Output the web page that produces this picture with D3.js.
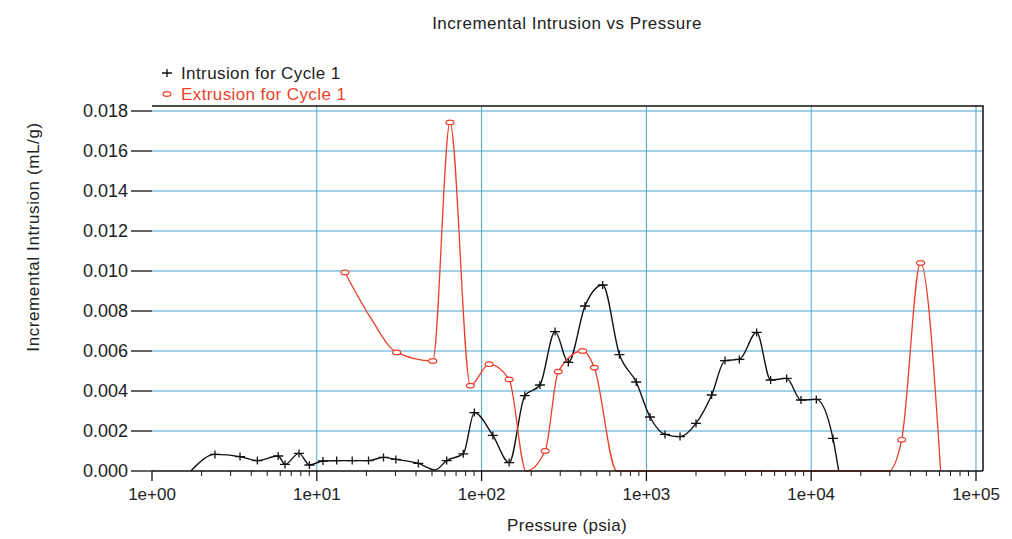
<!DOCTYPE html>
<html><head><meta charset="utf-8">
<script src="https://cdn.jsdelivr.net/npm/d3@7"></script>
<style>
body{margin:0;background:#fff;}
text{font-family:"Liberation Sans",Arial,sans-serif;}
</style></head>
<body><svg id="c" width="1012" height="539"></svg>
<script>
// ---- data ----
const intrusionPressure = [1.72,2.41,3.42,4.36,5.83,6.41,7.80,9.02,10.9,13.2,16.4,20.6,25.4,30.2,41.3,52.1,61.4,77.4,90.4,117,147,183,226,279,336,424,543,686,867,1052,1297,1600,2000,2489,3000,3664,4667,5675,7096,8670,10740,13550,14690];
const intrusionValues   = [0,0.00083,0.00072,0.00052,0.00075,0.00033,0.00088,0.0003,0.0005,0.00052,0.00052,0.00052,0.00068,0.00058,0.00038,0.00005,0.00052,0.00086,0.00292,0.00178,0.00042,0.00377,0.0043,0.00697,0.00543,0.00825,0.0093,0.00582,0.00445,0.0027,0.00183,0.00172,0.00238,0.0038,0.00552,0.00558,0.00693,0.00455,0.00463,0.00355,0.00358,0.00163,0];
const extrusionPressure = [14.8,21.0,30.5,50.5,64.3,85.5,111,147,186,243,292,410,483,661,29500,35400,46100,61000];
const extrusionValues   = [0.00993,0.00772,0.00593,0.0055,0.01743,0.00427,0.00534,0.00458,0,0.001,0.00497,0.006,0.00517,0,0,0.00156,0.0104,0];
const extrusionMarked   = [1,0,1,1,1,1,1,1,0,1,1,1,1,0,0,1,1,0];
const yTicks = [0,0.002,0.004,0.006,0.008,0.010,0.012,0.014,0.016,0.018];
const xMajor = [1,10,100,1000,10000,100000];
const xTickLabels = ["1e+00","1e+01","1e+02","1e+03","1e+04","1e+05"];
const seriesNames = ["Intrusion for Cycle 1","Extrusion for Cycle 1"];
const titleText = "Incremental Intrusion vs Pressure";
const xTitle = "Pressure (psia)";
const yTitle = "Incremental Intrusion (mL/g)";

// ---- layout ----
const L=152, R=983, T=106, B=471;
const red="#ec3f2a", grid="#45a3d6";
const svg=d3.select("#c");
svg.append("rect").attr("width",1012).attr("height",539).attr("fill","#fff");
const x=d3.scaleLog().domain([1,Math.pow(10,5*(R-L)/824)]).range([L,R]);
const y=d3.scaleLinear().domain([0,0.018*(B-T)/360]).range([B,T]);

// grid
const g=svg.append("g");
g.selectAll("line.h").data(yTicks.filter(d=>d>0)).join("line")
 .attr("x1",L).attr("x2",R).attr("y1",d=>y(d)).attr("y2",d=>y(d))
 .attr("stroke",grid).attr("stroke-width",1);
g.selectAll("line.v").data(xMajor.slice(1)).join("line")
 .attr("y1",T).attr("y2",B).attr("x1",d=>x(d)).attr("x2",d=>x(d))
 .attr("stroke",grid).attr("stroke-width",1);

// lines
const line=(xs,vs)=>d3.line().curve(d3.curveMonotoneX).x((d,i)=>x(xs[i])).y(d=>y(d))(vs);
svg.append("path").attr("d",line(intrusionPressure,intrusionValues)).attr("fill","none").attr("stroke","#111").attr("stroke-width",1.4);
svg.append("path").attr("d",line(extrusionPressure,extrusionValues)).attr("fill","none").attr("stroke",red).attr("stroke-width",1.3);

// markers
const plus="M-5,0H5M0,-4V4";
svg.append("g").selectAll("path").data(intrusionValues.map((v,i)=>[intrusionPressure[i],v]).filter(d=>d[1]>0.0001)).join("path")
 .attr("d",plus).attr("transform",d=>`translate(${x(d[0])},${y(d[1])})`).attr("stroke","#111").attr("stroke-width",1.3).attr("fill","none");
svg.append("g").selectAll("ellipse").data(extrusionValues.map((v,i)=>[extrusionPressure[i],v,extrusionMarked[i]]).filter(d=>d[2])).join("ellipse")
 .attr("cx",d=>x(d[0])).attr("cy",d=>y(d[1])).attr("rx",4).attr("ry",2.3).attr("fill","#fff").attr("stroke",red).attr("stroke-width",1.2);

// frame
svg.append("path").attr("d",`M${L},${T}H${R}V${B}`).attr("fill","none").attr("stroke","#111").attr("stroke-width",1.5);

// x axis
const minor=[];
for(let e=0;e<5;e++) for(let k=2;k<=9;k++) minor.push(k*Math.pow(10,e));
const xa=svg.append("g");
xa.append("line").attr("x1",L).attr("x2",R).attr("y1",B).attr("y2",B).attr("stroke","#111").attr("stroke-width",1.5);
xa.selectAll("line.mi").data(minor).join("line").attr("x1",d=>x(d)).attr("x2",d=>x(d)).attr("y1",B).attr("y2",B+5).attr("stroke","#111");
xa.selectAll("line.ma").data(xMajor).join("line").attr("x1",d=>x(d)).attr("x2",d=>x(d)).attr("y1",B).attr("y2",B+10).attr("stroke","#111").attr("stroke-width",1.3);
xa.selectAll("text").data(xMajor).join("text").attr("x",d=>x(d)).attr("y",B+29).attr("text-anchor","middle")
 .attr("font-size",17).attr("fill","#222").text((d,i)=>xTickLabels[i]);

// y axis
const ya=svg.append("g");
ya.append("line").attr("x1",L).attr("x2",L).attr("y1",T).attr("y2",B).attr("stroke","#111").attr("stroke-width",1.5);
ya.selectAll("line").data(yTicks).join("line").attr("x1",L-21).attr("x2",L).attr("y1",d=>y(d)).attr("y2",d=>y(d)).attr("stroke","#111").attr("stroke-width",1.3);
ya.selectAll("text").data(yTicks).join("text").attr("x",L-24).attr("y",d=>y(d)).attr("dy","0.36em").attr("text-anchor","end")
 .attr("font-size",18).attr("fill","#222").text(d=>d.toFixed(3));

// titles
svg.append("text").attr("x",567).attr("y",29).attr("text-anchor","middle").attr("font-size",17).attr("letter-spacing",0.5).attr("fill","#222").text(titleText);
svg.append("text").attr("x",567).attr("y",531).attr("text-anchor","middle").attr("font-size",17).attr("letter-spacing",0.3).attr("fill","#222").text(xTitle);
svg.append("text").attr("transform","translate(39,237) rotate(-90)").attr("text-anchor","middle").attr("font-size",17).attr("letter-spacing",0.6).attr("fill","#222").text(yTitle);

// legend
const lg=svg.append("g");
lg.append("path").attr("d",plus).attr("transform","translate(167,73)").attr("stroke","#111").attr("stroke-width",1.3);
lg.append("ellipse").attr("cx",167).attr("cy",94).attr("rx",4).attr("ry",2.3).attr("fill","#fff").attr("stroke",red).attr("stroke-width",1.2);
lg.append("text").attr("x",181).attr("y",79).attr("font-size",17).attr("letter-spacing",0.4).attr("fill","#222").text(seriesNames[0]);
lg.append("text").attr("x",181).attr("y",100).attr("font-size",17).attr("letter-spacing",0.4).attr("fill",red).text(seriesNames[1]);
</script></body></html>
